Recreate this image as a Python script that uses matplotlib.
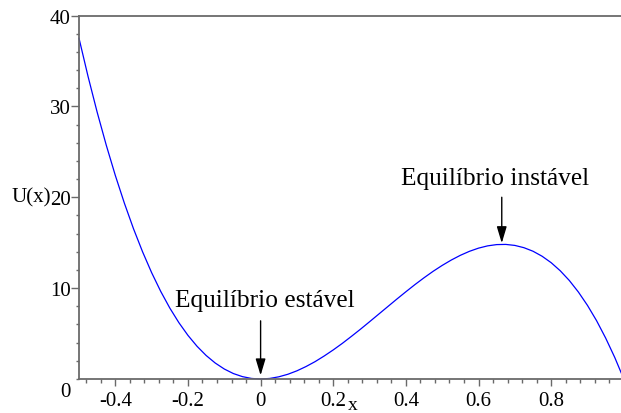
import matplotlib
matplotlib.use("Agg")
import matplotlib.pyplot as plt
from matplotlib.ticker import MultipleLocator

x_vals = [-0.500, -0.475, -0.450, -0.425, -0.400, -0.375, -0.350, -0.325, -0.300, -0.275,
          -0.250, -0.225, -0.200, -0.175, -0.150, -0.125, -0.100, -0.075, -0.050, -0.025,
          0.000, 0.025, 0.050, 0.075, 0.100, 0.125, 0.150, 0.175, 0.200, 0.225,
          0.250, 0.275, 0.300, 0.325, 0.350, 0.375, 0.400, 0.425, 0.450, 0.475,
          0.500, 0.525, 0.550, 0.575, 0.600, 0.625, 0.650, 0.675, 0.700, 0.725,
          0.750, 0.775, 0.800, 0.825, 0.850, 0.875, 0.900, 0.925, 0.950, 0.975, 1.000]
u_vals = [37.50, 33.28, 29.36, 25.74, 22.40, 19.34, 16.54, 14.00, 11.70, 9.64,
          7.81, 6.20, 4.80, 3.60, 2.59, 1.76, 1.10, 0.60, 0.26, 0.06,
          0.00, 0.06, 0.24, 0.52, 0.90, 1.37, 1.91, 2.53, 3.20, 3.92,
          4.69, 5.48, 6.30, 7.13, 7.96, 8.79, 9.60, 10.39, 11.14, 11.85,
          12.50, 13.09, 13.61, 14.05, 14.40, 14.65, 14.79, 14.81, 14.70, 14.45,
          14.06, 13.51, 12.80, 11.91, 10.84, 9.57, 8.10, 6.42, 4.51, 2.38, 0.00]

x_ticks = [-0.4, -0.2, 0.0, 0.2, 0.4, 0.6, 0.8]
x_ticklabels = ["-0.4", "-0.2", "0", "0.2", "0.4", "0.6", "0.8"]
y_ticks = [10, 20, 30, 40]
y_ticklabels = ["10", "20", "30", "40"]

ann_stable = "Equilíbrio estável"
ann_unstable = "Equilíbrio instável"
stable_pt = (0.0, 0.0)
unstable_pt = (0.664, 14.81)

FONT = "Liberation Serif"
plt.rcParams["font.family"] = [FONT, "DejaVu Serif"]

W, H = 621, 414
fig = plt.figure(figsize=(W / 100, H / 100), dpi=100)
ax_left = 79 / W
ax_bottom = 1 - 380 / H
ax_top = 1 - 16.5 / H
ax = fig.add_axes([ax_left, ax_bottom, 1 - ax_left, ax_top - ax_bottom])

ax.plot(x_vals, u_vals, color="#0000ff", lw=0.9, clip_on=False)

xmax = (621 - 260.3) / 363.5
ax.set_xlim(-0.5, xmax)
ax.set_ylim(0, 40)

axcol = "#6a6a6a"
for s in ["left", "bottom", "top"]:
    ax.spines[s].set_color(axcol)
    ax.spines[s].set_linewidth(1.3)
ax.spines["right"].set_visible(False)

TS = 15
ax.set_xticks(x_ticks)
ax.set_xticklabels(x_ticklabels)
ax.set_yticks(y_ticks)
ax.set_yticklabels(y_ticklabels)
ax.xaxis.set_minor_locator(MultipleLocator(0.04))
ax.yaxis.set_minor_locator(MultipleLocator(2))
ax.tick_params(axis="both", which="major", direction="out", color=axcol,
               width=1.0, labelsize=TS, labelcolor="black")
ax.tick_params(axis="x", which="major", length=5.0, pad=4)
ax.tick_params(axis="y", which="major", length=5.8, pad=0.3)
ax.tick_params(axis="x", which="minor", length=3.0, color=axcol, width=1.0)
ax.tick_params(axis="y", which="minor", length=2.5, color=axcol, width=1.0)
ax.tick_params(top=False, right=False, which="both")

# y "0" label placed below the axis as in the original
fig.text(65 / W, 1 - 393 / H, "0", ha="center", va="center", fontsize=TS)
# axis labels
ax.set_ylabel("U(x)", rotation=0, ha="right", va="center", fontsize=TS)
ax.yaxis.set_label_coords((50.5 - 79) / (W - 79), 0.5)
fig.text(348 / W, 1 - 410 / H, "x", ha="left", va="baseline", fontsize=14)

# annotations
arrow_kw = dict(arrowstyle="-|>,head_length=1.0,head_width=0.3", color="black",
                lw=1.0, mutation_scale=10, shrinkA=0, shrinkB=0)
ax.annotate("", xy=(stable_pt[0], 0.4), xytext=(stable_pt[0], 6.4), arrowprops=arrow_kw)
ax.text(0.012, 8.06, ann_stable, ha="center", va="baseline", fontsize=18.3)
ax.annotate("", xy=(unstable_pt[0], 14.95), xytext=(unstable_pt[0], 20.0), arrowprops=arrow_kw)
ax.text(0.646, 21.45, ann_unstable, ha="center", va="baseline", fontsize=18.3)

fig.savefig("out.png", dpi=100)
